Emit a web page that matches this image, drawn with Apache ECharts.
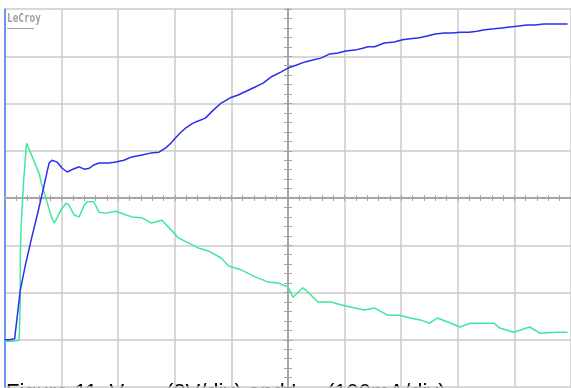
<!DOCTYPE html>
<html><head><meta charset="utf-8">
<script src="https://cdn.jsdelivr.net/npm/echarts@6/dist/echarts.min.js"></script>
<style>html,body{margin:0;padding:0;background:#fff;overflow:hidden}#c{width:571px;height:388px}</style>
</head><body><div id="c"></div>
<script>
// Time in horizontal divisions relative to the trigger (centre), values in vertical divisions
const voutTime = [-5.0,-4.92,-4.83,-4.80,-4.73,-4.64,-4.53,-4.43,-4.32,-4.25,-4.22,-4.17,-4.08,-3.99,-3.90,-3.80,-3.69,-3.60,-3.51,-3.43,-3.34,-3.25,-3.16,-3.04,-2.90,-2.76,-2.58,-2.43,-2.28,-2.16,-2.07,-1.99,-1.90,-1.81,-1.70,-1.63,-1.46,-1.32,-1.18,-1.02,-0.88,-0.74,-0.58,-0.44,-0.30,-0.12,0,0.14,0.30,0.44,0.58,0.74,0.88,1.02,1.18,1.32,1.41,1.53,1.70,1.88,2.02,2.16,2.32,2.46,2.60,2.76,2.90,3.04,3.20,3.34,3.48,3.64,3.78,3.92,4.08,4.22,4.36,4.52,4.66,4.80,4.94];
const voutDiv = [-3.0,-3.0,-2.98,-2.94,-1.95,-1.42,-0.85,-0.36,0.21,0.59,0.74,0.80,0.76,0.63,0.55,0.61,0.66,0.61,0.63,0.70,0.74,0.74,0.74,0.76,0.80,0.87,0.91,0.95,0.97,1.06,1.16,1.27,1.38,1.48,1.57,1.61,1.69,1.86,2.01,2.12,2.18,2.26,2.35,2.43,2.56,2.67,2.75,2.81,2.88,2.92,2.96,3.05,3.07,3.11,3.13,3.17,3.20,3.20,3.28,3.30,3.35,3.37,3.39,3.43,3.47,3.49,3.49,3.51,3.51,3.53,3.56,3.58,3.60,3.62,3.64,3.66,3.66,3.68,3.68,3.68,3.68];
const ilTime = [-5.0,-4.92,-4.87,-4.75,-4.73,-4.73,-4.71,-4.67,-4.62,-4.57,-4.48,-4.39,-4.36,-4.27,-4.18,-4.13,-4.08,-4.01,-3.92,-3.87,-3.78,-3.69,-3.60,-3.55,-3.43,-3.34,-3.22,-3.04,-2.86,-2.76,-2.58,-2.41,-2.23,-2.06,-1.93,-1.76,-1.58,-1.41,-1.18,-1.05,-0.83,-0.58,-0.35,-0.18,0,0.09,0.26,0.35,0.53,0.76,0.93,1.18,1.35,1.53,1.76,1.97,2.16,2.34,2.50,2.64,2.81,3.04,3.22,3.64,3.74,3.99,4.27,4.45,4.75,4.94];
const ilDiv = [-3.03,-3.03,-3.03,-3.01,-2.16,-1.21,-0.47,0.38,1.16,1.02,0.76,0.49,0.32,-0.04,-0.40,-0.53,-0.42,-0.25,-0.11,-0.15,-0.36,-0.40,-0.15,-0.08,-0.08,-0.30,-0.32,-0.28,-0.36,-0.40,-0.42,-0.53,-0.47,-0.68,-0.85,-0.95,-1.06,-1.12,-1.27,-1.44,-1.52,-1.67,-1.78,-1.80,-1.88,-2.10,-1.90,-1.99,-2.20,-2.20,-2.26,-2.33,-2.37,-2.33,-2.48,-2.48,-2.54,-2.58,-2.65,-2.54,-2.62,-2.73,-2.65,-2.65,-2.75,-2.84,-2.73,-2.86,-2.84,-2.84];
const captionParts = ['Figure 11. V', 'OUT', '(2V/div) and I', 'L', '(100mA/div)'];
const logoText = 'LeCroy';

const chart = echarts.init(document.getElementById('c'), null, {renderer: 'canvas'});
const gridCol = '#cbcbcb', axisCol = '#a6a6a6';
const zip = (a, b) => a.map((v, i) => [v, b[i]]);
function centreX(pos) {
  return {type: 'value', min: -5, max: 5, interval: 1, position: pos,
    axisLine: {show: true, onZero: true, onZeroAxisIndex: 0, lineStyle: {color: axisCol, width: 2}},
    axisTick: {show: true, inside: false, length: 3, lineStyle: {color: axisCol, width: 1}},
    minorTick: {show: true, splitNumber: 5, length: 3, lineStyle: {color: axisCol, width: 1}},
    axisLabel: {show: false},
    splitLine: {show: pos === 'bottom', lineStyle: {color: gridCol, width: 1.5}}};
}
function centreY(pos) {
  return {type: 'value', min: -4, max: 4, interval: 1, position: pos,
    axisLine: {show: true, onZero: true, onZeroAxisIndex: 0, lineStyle: {color: axisCol, width: 2}},
    axisTick: {show: true, inside: false, length: 4, lineStyle: {color: axisCol, width: 1}},
    minorTick: {show: true, splitNumber: 5, length: 4, lineStyle: {color: axisCol, width: 1}},
    axisLabel: {show: false},
    splitLine: {show: pos === 'left', lineStyle: {color: gridCol, width: 1.5}}};
}
const capFont = {fontFamily: 'Liberation Sans, Arial, sans-serif', fill: '#000'};
chart.setOption({
  animation: false,
  backgroundColor: '#fff',
  grid: {left: 5, top: 9, width: 569, height: 378, containLabel: false},
  xAxis: [centreX('bottom'), centreX('top')],
  yAxis: [centreY('left'), centreY('right'),
    {type: 'value', min: -4, max: 4, position: 'left', axisLine: {show: true, onZero: false, lineStyle: {color: '#4d7dff', width: 1.5}},
     axisTick: {show: false}, axisLabel: {show: false}, splitLine: {show: false}}],
  series: [
    {name: 'VOUT', type: 'line', data: zip(voutTime, voutDiv), showSymbol: false, symbol: 'none',
     lineStyle: {color: '#2d2deb', width: 1.5}, z: 5},
    {name: 'IL', type: 'line', data: zip(ilTime, ilDiv), showSymbol: false, symbol: 'none',
     lineStyle: {color: '#3fe89b', width: 1.5}, z: 4}
  ],
  graphic: [
    {type: 'text', left: 7, top: 12, scaleX: 0.72, style: {text: logoText, font: 'bold 13px "DejaVu Sans Mono", monospace', fill: '#a0a0a0'}},
    {type: 'line', shape: {x1: 7, y1: 28.5, x2: 34, y2: 28.5}, style: {stroke: '#a8a8a8', lineWidth: 1}},
    {type: 'text', x: 6, y: 382, style: Object.assign({text: captionParts[0], fontSize: 22, verticalAlign: 'top'}, capFont)},
    {type: 'text', x: 131, y: 394, style: Object.assign({text: captionParts[1], fontSize: 14, verticalAlign: 'top'}, capFont)},
    {type: 'text', x: 166, y: 382, style: Object.assign({text: captionParts[2], fontSize: 22, verticalAlign: 'top'}, capFont)},
    {type: 'text', x: 296, y: 394, style: Object.assign({text: captionParts[3], fontSize: 14, verticalAlign: 'top'}, capFont)},
    {type: 'text', x: 327, y: 382, style: Object.assign({text: captionParts[4], fontSize: 22, verticalAlign: 'top'}, capFont)}
  ]
});
</script></body></html>
